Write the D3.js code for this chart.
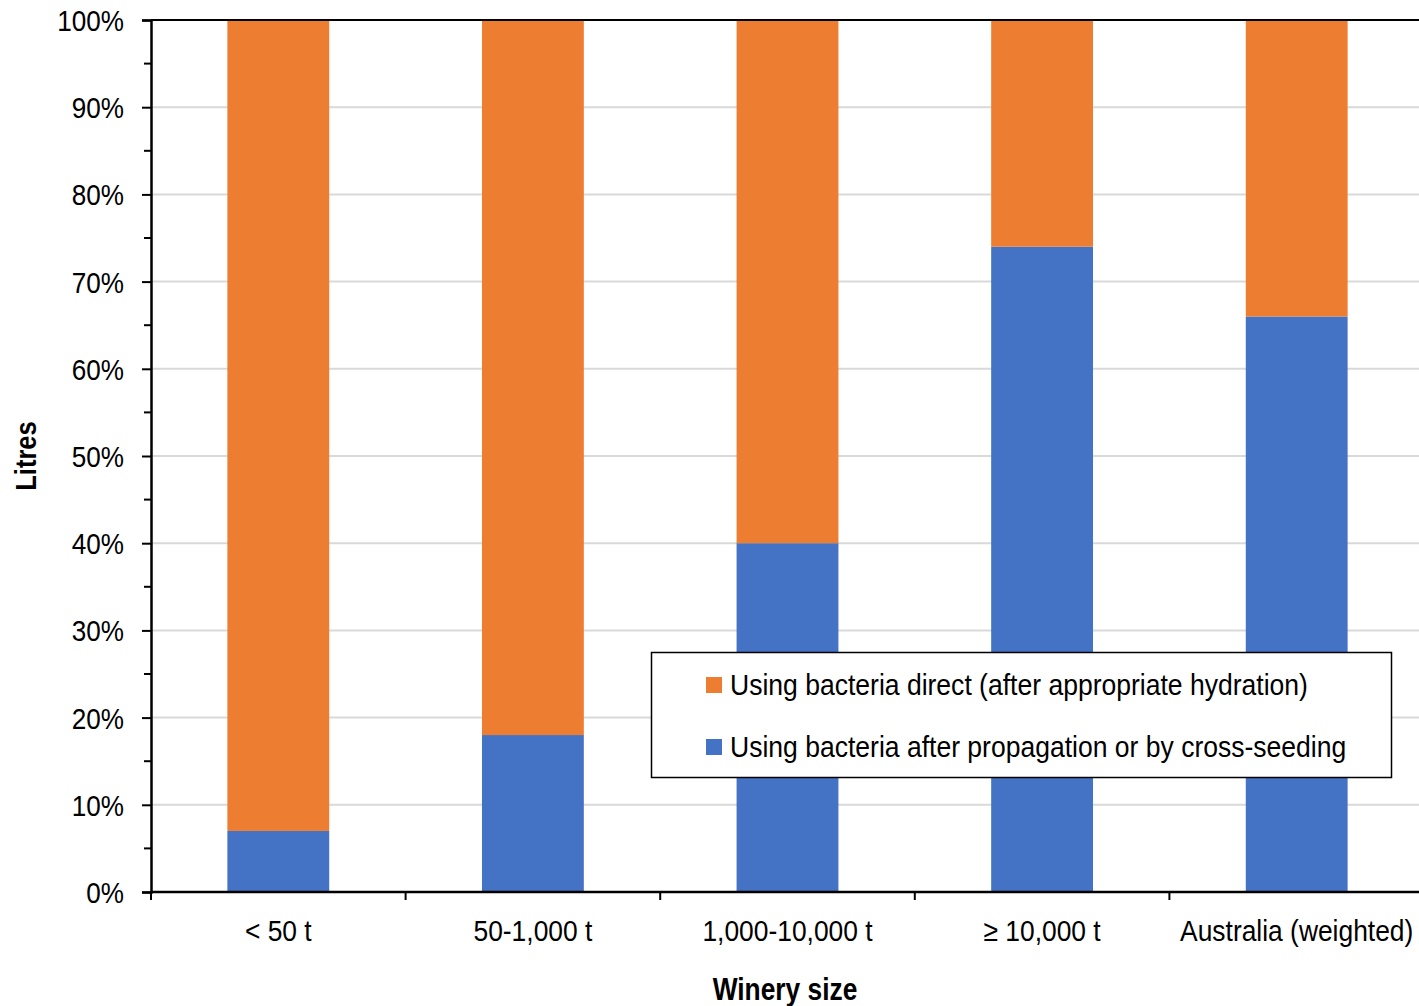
<!DOCTYPE html>
<html>
<head>
<meta charset="utf-8">
<script src="https://cdn.jsdelivr.net/npm/d3@7"></script>
<style>
  html, body { margin: 0; padding: 0; background: #fff; }
  svg { display: block; }
  text { font-family: "Liberation Sans", Arial, sans-serif; fill: #000; }
</style>
</head>
<body>
<svg id="chart" width="1419" height="1006"></svg>
<script>
// Share of litres by winery size, stacked to 100%
const categories = ["< 50 t", "50-1,000 t", "1,000-10,000 t", "\u2265 10,000 t", "Australia (weighted)"];
const propagated = [7, 18, 40, 74, 66];      // after propagation or by cross-seeding
const direct     = [93, 82, 60, 26, 34];     // direct (after appropriate hydration)
const seriesNames = [
  "Using bacteria after propagation or by cross-seeding",
  "Using bacteria direct (after appropriate hydration)"
];
const seriesColors = ["#4472C4", "#ED7D31"];
const yTicks = [0, 10, 20, 30, 40, 50, 60, 70, 80, 90, 100];

// condensed look: squeeze glyphs horizontally around their anchor
function narrow(sel, k) {
  sel.each(function () {
    const t = d3.select(this);
    const xv = +(t.attr("x") || 0);
    const prev = t.attr("transform") || "";
    t.attr("x", xv / k).attr("transform", `${prev} scale(${k},1)`);
  });
}

const svg = d3.select("#chart");
const margin = { left: 151, top: 20, right: -5, bottom: 114 };
const W = 1419, H = 1006;
const x0 = margin.left, x1 = W - margin.right;
const y0 = H - margin.bottom, y1 = margin.top;

const x = d3.scaleBand().domain(categories).range([x0, x1]).paddingInner(0.6).paddingOuter(0.3);
const xBound = d3.scaleBand().domain(categories).range([x0, x1]).padding(0);
const y = d3.scaleLinear().domain([0, 100]).range([y0, y1]);

// gridlines
svg.append("g").selectAll("line").data(yTicks.filter(d => d > 0)).join("line")
  .attr("x1", x0).attr("x2", x1)
  .attr("y1", d => y(d)).attr("y2", d => y(d))
  .attr("stroke", "#d9d9d9").attr("stroke-width", 2);

// stacked bars
const rows = categories.map((c, i) => ({ cat: c, p: propagated[i], d: direct[i] }));
const stack = d3.stack().keys(["p", "d"])(rows);
svg.append("g").selectAll("g").data(stack).join("g")
  .attr("fill", (s, i) => seriesColors[i])
  .selectAll("rect").data(s => s).join("rect")
  .attr("x", d => x(d.data.cat))
  .attr("width", x.bandwidth())
  .attr("y", d => y(d[1]))
  .attr("height", d => y(d[0]) - y(d[1]));

// top frame line
svg.append("line").attr("x1", x0).attr("x2", x1).attr("y1", y1).attr("y2", y1)
  .attr("stroke", "#000").attr("stroke-width", 2);

// y axis
const yAxis = svg.append("g").attr("transform", `translate(${x0},0)`)
  .call(d3.axisLeft(y).tickValues(yTicks).tickSize(9).tickFormat(d => d + "%"));
yAxis.select(".domain").attr("stroke", "#000").attr("stroke-width", 2.5);
yAxis.selectAll(".tick line").attr("stroke", "#000").attr("stroke-width", 2);
yAxis.selectAll(".tick text").attr("x", -27).attr("font-size", 30).attr("dy", "0.35em")
  .style("font-family", '"Liberation Sans", Arial, sans-serif');
narrow(yAxis.selectAll(".tick text"), 0.87);
// minor ticks at the 5% marks
svg.append("g").selectAll("line").data(d3.range(5, 100, 10)).join("line")
  .attr("x1", x0 - 7).attr("x2", x0)
  .attr("y1", d => y(d)).attr("y2", d => y(d))
  .attr("stroke", "#000").attr("stroke-width", 2);

// x axis
const xAxis = svg.append("g").attr("transform", `translate(0,${y0})`)
  .call(d3.axisBottom(x).tickSize(0).tickPadding(28));
xAxis.select(".domain").remove();
xAxis.selectAll(".tick text").attr("font-size", 30)
  .style("font-family", '"Liberation Sans", Arial, sans-serif');
narrow(xAxis.selectAll(".tick text"), 0.88);
svg.append("line").attr("x1", x0).attr("x2", x1).attr("y1", y0).attr("y2", y0)
  .attr("stroke", "#000").attr("stroke-width", 2.5);
svg.append("g").selectAll("line").data(categories).join("line")
  .attr("x1", d => xBound(d)).attr("x2", d => xBound(d))
  .attr("y1", y0).attr("y2", y0 + 8)
  .attr("stroke", "#000").attr("stroke-width", 2);

// axis titles
const xt = svg.append("text").attr("x", 785).attr("y", 1000)
  .attr("text-anchor", "middle").attr("font-size", 31).attr("font-weight", "bold")
  .text("Winery size");
narrow(xt, 0.85);
const yt = svg.append("text").attr("transform", `translate(36,${(y0 + y1) / 2}) rotate(-90)`)
  .attr("text-anchor", "middle").attr("font-size", 30).attr("font-weight", "bold")
  .text("Litres");
narrow(yt, 0.85);

// legend
const lg = svg.append("g");
lg.append("rect").attr("x", 651.5).attr("y", 652.5).attr("width", 740).attr("height", 125)
  .attr("fill", "#fff").attr("stroke", "#000").attr("stroke-width", 1.5);
const legendItems = [
  { name: seriesNames[1], color: seriesColors[1] },
  { name: seriesNames[0], color: seriesColors[0] }
];
legendItems.forEach((it, i) => {
  const cy = 685 + i * 62;
  lg.append("rect").attr("x", 706).attr("y", cy - 8).attr("width", 16).attr("height", 16).attr("fill", it.color);
  const t = lg.append("text").attr("x", 730).attr("y", cy).attr("dy", "0.35em").attr("font-size", 29).text(it.name);
  narrow(t, 0.915);
});
</script>
</body>
</html>
